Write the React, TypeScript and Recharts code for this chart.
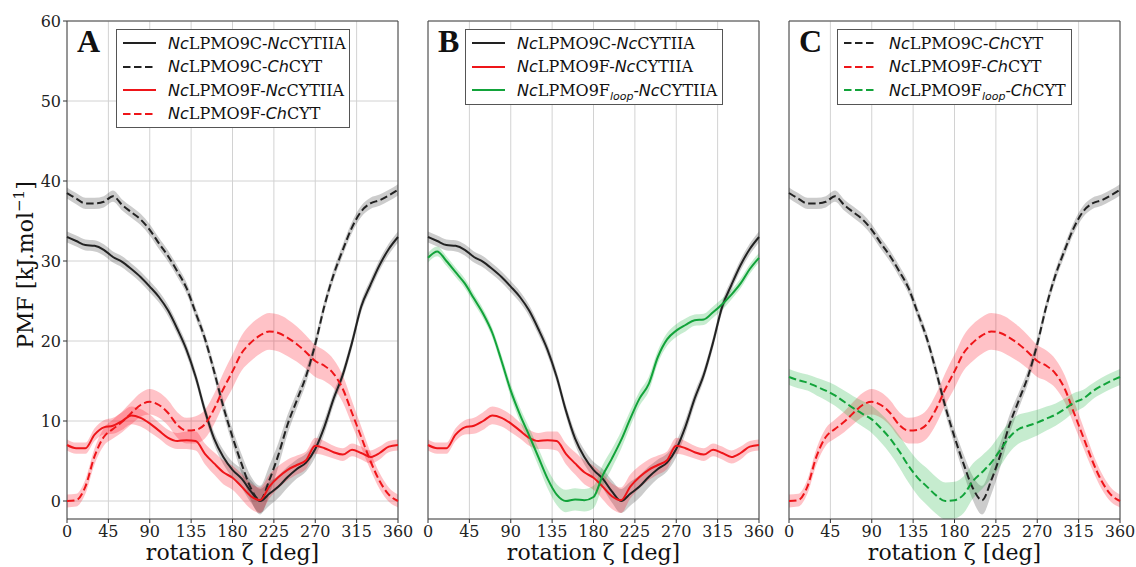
import React from "react";
import {
  Area,
  CartesianGrid,
  ComposedChart,
  Label,
  Legend,
  Line,
  ReferenceArea,
  XAxis,
  YAxis
} from "recharts";

const rotation = [
  0, 10, 20, 30, 40, 50, 60, 70, 80, 90, 100, 110, 120, 130, 140, 150, 160, 170, 180,
  190, 200, 210, 220, 230, 240, 250, 260, 270, 280, 290, 300, 310, 320, 330, 340, 350, 360
];
const xTicks = [0, 45, 90, 135, 180, 225, 270, 315, 360];
const yTicks = [0, 10, 20, 30, 40, 50, 60];

// PMF [kJ/mol] per complex, with the half width of the shaded band
const c9NcCyt = [
  33.0, 32.5, 32.0, 31.9, 31.4, 30.5, 29.9, 29.0, 28.0, 26.8, 25.5, 23.8, 21.5, 18.9, 15.5, 11.3, 7.8, 5.5, 3.9,
  2.8, 1.2, 0.0, 0.9, 1.8, 3.0, 4.0, 4.8, 6.5, 9.3, 12.8, 15.8, 19.8, 24.3, 27.0, 29.5, 31.5, 33.0
];
const c9NcCytErr = [
  0.7, 0.7, 0.7, 0.7, 0.7, 0.7, 0.7, 0.7, 0.7, 0.7, 0.7, 0.7, 0.7, 0.7, 0.7, 0.7, 0.8, 0.9, 1.0,
  1.2, 1.4, 1.5, 1.5, 1.4, 1.3, 1.2, 1.1, 1.0, 0.9, 0.8, 0.7, 0.7, 0.7, 0.7, 0.7, 0.7, 0.7
];
const c9ChCyt = [
  38.5, 37.8, 37.2, 37.2, 37.4, 38.1, 37.0, 36.1, 35.2, 33.9, 32.2, 30.6, 28.7, 26.6, 23.5, 20.3, 16.2, 11.8, 8.0,
  4.6, 1.6, 0.1, 2.6, 5.8, 9.6, 12.6, 15.6, 19.6, 24.4, 28.3, 31.4, 34.2, 36.2, 37.2, 37.6, 38.2, 38.9
];
const c9ChCytErr = [
  0.7, 0.7, 0.7, 0.7, 0.7, 0.7, 0.7, 0.7, 0.7, 0.7, 0.7, 0.7, 0.7, 0.7, 0.7, 0.7, 0.8, 0.9, 1.0,
  1.2, 1.5, 1.8, 1.8, 1.5, 1.2, 1.0, 0.9, 0.8, 0.7, 0.7, 0.7, 0.7, 0.7, 0.7, 0.7, 0.7, 0.7
];
const f9NcCyt = [
  7.0, 6.6, 6.6, 8.3, 9.2, 9.4, 10.0, 10.7, 10.4, 9.7, 8.8, 7.9, 7.5, 7.6, 7.5, 5.9, 4.7, 3.6, 2.9,
  1.8, 0.6, 0.1, 1.8, 3.0, 3.9, 4.5, 5.1, 6.9, 6.6, 6.1, 5.8, 6.4, 6.0, 5.5, 6.0, 6.8, 7.0
];
const f9NcCytErr = [
  0.7, 0.7, 0.7, 0.8, 0.9, 1.0, 1.1, 1.1, 1.1, 1.1, 1.0, 1.0, 1.0, 1.1, 1.2, 1.3, 1.4, 1.5, 1.5,
  1.6, 1.6, 1.6, 1.5, 1.4, 1.3, 1.2, 1.1, 1.0, 0.9, 0.8, 0.8, 0.8, 0.8, 0.8, 0.8, 0.7, 0.7
];
const f9ChCyt = [
  0.0, 0.1, 1.8, 5.6, 8.0, 9.0, 9.9, 11.0, 12.0, 12.4, 12.0, 11.0, 9.5, 8.8, 8.9, 9.6, 11.5, 14.0, 16.2,
  18.5, 19.8, 20.7, 21.2, 21.0, 20.4, 19.6, 18.6, 17.5, 16.9, 15.9, 14.0, 11.0, 8.0, 5.0, 2.5, 0.8, 0.0
];
const f9ChCytErr = [
  0.8, 0.8, 0.9, 1.0, 1.1, 1.2, 1.3, 1.4, 1.5, 1.6, 1.6, 1.6, 1.6, 1.6, 1.7, 1.8, 1.9, 2.0, 2.1,
  2.2, 2.3, 2.3, 2.3, 2.3, 2.3, 2.2, 2.1, 2.0, 1.9, 1.8, 1.7, 1.5, 1.3, 1.1, 1.0, 0.9, 0.8
];
const floopNcCyt = [
  30.4, 31.2, 30.0, 28.6, 27.2, 25.3, 23.4, 21.0, 17.5, 13.8, 10.8, 8.2, 5.5, 2.8, 0.8, 0.0, 0.2, 0.1, 0.5,
  3.2, 5.3, 7.6, 10.3, 12.8, 14.6, 18.0, 20.2, 21.3, 22.0, 22.6, 22.7, 23.6, 24.6, 25.8, 27.2, 29.0, 30.4
];
const floopNcCytErr = [
  0.6, 0.6, 0.6, 0.6, 0.6, 0.6, 0.6, 0.6, 0.7, 0.8, 0.9, 1.0, 1.1, 1.2, 1.3, 1.4, 1.4, 1.4, 1.4,
  1.3, 1.2, 1.1, 1.0, 0.9, 0.9, 0.8, 0.8, 0.8, 0.8, 0.7, 0.7, 0.7, 0.7, 0.6, 0.6, 0.6, 0.6
];
const floopChCyt = [
  15.5, 15.1, 14.8, 14.3, 13.8, 13.2, 12.4, 11.6, 10.9, 10.2, 9.1, 7.8, 6.2, 4.4, 2.9, 1.8, 0.7, 0.0, 0.1,
  0.8, 2.5, 3.6, 4.8, 6.4, 8.0, 9.0, 9.4, 9.8, 10.3, 10.8, 11.5, 12.3, 12.8, 13.7, 14.4, 15.0, 15.5
];
const floopChCytErr = [
  1.0, 1.0, 1.0, 1.1, 1.2, 1.3, 1.4, 1.5, 1.6, 1.7, 1.8, 1.9, 2.0, 2.1, 2.2, 2.3, 2.3, 2.3, 2.3,
  2.3, 2.2, 2.1, 2.0, 2.0, 1.9, 1.8, 1.7, 1.6, 1.5, 1.4, 1.3, 1.2, 1.1, 1.0, 1.0, 1.0, 1.0
];

const SERIF = '"DejaVu Serif", serif';
const SANS = '"DejaVu Sans", sans-serif';
const Y_MIN = -2.25;

const rows = rotation.map((r, i) => ({
  rotation: r,
  c9Nc: c9NcCyt[i],
  c9NcBand: [c9NcCyt[i] - c9NcCytErr[i], c9NcCyt[i] + c9NcCytErr[i]],
  c9Ch: c9ChCyt[i],
  c9ChBand: [c9ChCyt[i] - c9ChCytErr[i], c9ChCyt[i] + c9ChCytErr[i]],
  f9Nc: f9NcCyt[i],
  f9NcBand: [f9NcCyt[i] - f9NcCytErr[i], f9NcCyt[i] + f9NcCytErr[i]],
  f9Ch: f9ChCyt[i],
  f9ChBand: [f9ChCyt[i] - f9ChCytErr[i], f9ChCyt[i] + f9ChCytErr[i]],
  floopNc: floopNcCyt[i],
  floopNcBand: [floopNcCyt[i] - floopNcCytErr[i], floopNcCyt[i] + floopNcCytErr[i]],
  floopCh: floopChCyt[i],
  floopChBand: [floopChCyt[i] - floopChCytErr[i], floopChCyt[i] + floopChCytErr[i]]
}));

const it = (s: string) => <span style={{ fontFamily: SANS, fontStyle: "italic" }}>{s}</span>;
const sub = (s: string) => (
  <span style={{ fontFamily: SANS, fontStyle: "italic", fontSize: 11, position: "relative", top: 4 }}>{s}</span>
);

const BLACK = "#222222";
const RED = "#ee1519";
const GREEN = "#12a33a";

const series: Record<string, { color: string; band: string; dashed: boolean; label: React.ReactNode }> = {
  c9Nc: { color: BLACK, band: "#000000", dashed: false, label: <>{it("Nc")}LPMO9C-{it("Nc")}CYTIIA</> },
  c9Ch: { color: BLACK, band: "#000000", dashed: true, label: <>{it("Nc")}LPMO9C-{it("Ch")}CYT</> },
  f9Nc: { color: RED, band: "#ff0014", dashed: false, label: <>{it("Nc")}LPMO9F-{it("Nc")}CYTIIA</> },
  f9Ch: { color: RED, band: "#ff0014", dashed: true, label: <>{it("Nc")}LPMO9F-{it("Ch")}CYT</> },
  floopNc: {
    color: GREEN,
    band: "#10b035",
    dashed: false,
    label: <>{it("Nc")}LPMO9F{sub("loop")}-{it("Nc")}CYTIIA</>
  },
  floopCh: {
    color: GREEN,
    band: "#10b035",
    dashed: true,
    label: <>{it("Nc")}LPMO9F{sub("loop")}-{it("Ch")}CYT</>
  }
};

function LegendBox({ keys, width }: { keys: string[]; width: number }) {
  return (
    <div
      style={{
        border: "1px solid #555",
        background: "#fff",
        padding: "1.5px 0 1.5px 6px",
        boxSizing: "border-box",
        width,
        fontFamily: SERIF,
        fontSize: 16,
        color: "#111"
      }}
    >
      {keys.map((k) => (
        <div key={k} style={{ display: "flex", alignItems: "center", height: 23.5, whiteSpace: "nowrap" }}>
          <svg width={33} height={10} style={{ marginRight: 12, flex: "none" }}>
            <line
              x1={0}
              y1={5}
              x2={33}
              y2={5}
              stroke={series[k].color}
              strokeWidth={2}
              strokeDasharray={series[k].dashed ? "7.5 3.5" : undefined}
            />
          </svg>
          <span>{series[k].label}</span>
        </div>
      ))}
    </div>
  );
}

function YLabel() {
  return (
    <text
      x={33}
      y={265}
      transform="rotate(-90 33 265)"
      textAnchor="middle"
      fontFamily={SERIF}
      fontSize={22}
      fill="#111"
    >
      PMF [kJ.mol
      <tspan dy={-9} fontSize={15}>
        −1
      </tspan>
      <tspan dy={9}>]</tspan>
    </text>
  );
}

function Panel({
  letter,
  keys,
  left,
  width,
  marginLeft,
  marginRight,
  yAxisWidth,
  showYLabels,
  legendLeft,
  legendWidth
}: {
  letter: string;
  keys: string[];
  left: number;
  width: number;
  marginLeft: number;
  marginRight: number;
  yAxisWidth: number;
  showYLabels: boolean;
  legendLeft: number;
  legendWidth: number;
}) {
  return (
    <div style={{ position: "absolute", left, top: 0 }}>
      <ComposedChart
        width={width}
        height={567}
        data={rows}
        margin={{ top: 21, right: marginRight, bottom: 0, left: marginLeft }}
      >
        <CartesianGrid stroke="#d2d2d2" strokeWidth={1} />
        <XAxis
          dataKey="rotation"
          type="number"
          domain={[0, 360]}
          ticks={xTicks}
          interval={0}
          height={48}
          tickSize={4}
          tickMargin={3}
          axisLine={false}
          tickLine={{ stroke: "#333" }}
          tick={{ fontFamily: SERIF, fontSize: 16, fill: "#222" }}
        >
          <Label
            value="rotation ζ [deg]"
            position="insideBottom"
            offset={7}
            style={{ fontFamily: SERIF, fontSize: 22, fill: "#111" }}
          />
        </XAxis>
        <YAxis
          type="number"
          domain={[Y_MIN, 60]}
          allowDataOverflow
          ticks={yTicks}
          interval={0}
          width={yAxisWidth}
          tickSize={4}
          tickMargin={2}
          axisLine={false}
          tickLine={{ stroke: "#333" }}
          tick={showYLabels ? { fontFamily: SERIF, fontSize: 16, fill: "#222" } : false}
        >
          {showYLabels && <Label content={() => <YLabel />} />}
        </YAxis>
        {keys.map((k) => (
          <Area
            key={k + "Band"}
            dataKey={k + "Band"}
            type="monotone"
            stroke="none"
            fill={series[k].band}
            fillOpacity={series[k].band === "#000000" ? 0.2 : 0.24}
            isAnimationActive={false}
            activeDot={false}
            legendType="none"
          />
        ))}
        {keys.map((k) => (
          <Line
            key={k}
            dataKey={k}
            type="monotone"
            stroke={series[k].color}
            strokeWidth={2}
            strokeDasharray={series[k].dashed ? "7.5 3.5" : undefined}
            dot={false}
            activeDot={false}
            isAnimationActive={false}
          />
        ))}
        <ReferenceArea
          x1={0}
          x2={360}
          y1={Y_MIN}
          y2={60}
          fill="none"
          stroke="#444"
          strokeWidth={1}
          label={(p: any) => (
            <text
              x={p.viewBox.x + 10}
              y={p.viewBox.y + 31}
              fontFamily='"Liberation Serif", serif'
              fontWeight="bold"
              fontSize={32}
              fill="#111"
            >
              {letter}
            </text>
          )}
        />
        <Legend
          layout="vertical"
          align="center"
          verticalAlign="middle"
          wrapperStyle={{ left: legendLeft, top: 29, width: legendWidth, height: "auto" }}
          content={() => <LegendBox keys={keys} width={legendWidth} />}
        />
      </ComposedChart>
    </div>
  );
}

export default function App() {
  return (
    <div style={{ position: "absolute", left: 0, top: 0, width: 1136, height: 567, background: "#fff" }}>
      <Panel
        letter="A"
        keys={["c9Nc", "c9Ch", "f9Nc", "f9Ch"]}
        left={0}
        width={420}
        marginLeft={7}
        marginRight={22}
        yAxisWidth={60}
        showYLabels
        legendLeft={116}
        legendWidth={234}
      />
      <Panel
        letter="B"
        keys={["c9Nc", "f9Nc", "floopNc"]}
        left={410}
        width={370}
        marginLeft={8}
        marginRight={21}
        yAxisWidth={10}
        showYLabels={false}
        legendLeft={55}
        legendWidth={258}
      />
      <Panel
        letter="C"
        keys={["c9Ch", "f9Ch", "floopCh"]}
        left={770}
        width={366}
        marginLeft={9}
        marginRight={16}
        yAxisWidth={10}
        showYLabels={false}
        legendLeft={67}
        legendWidth={235}
      />
    </div>
  );
}
